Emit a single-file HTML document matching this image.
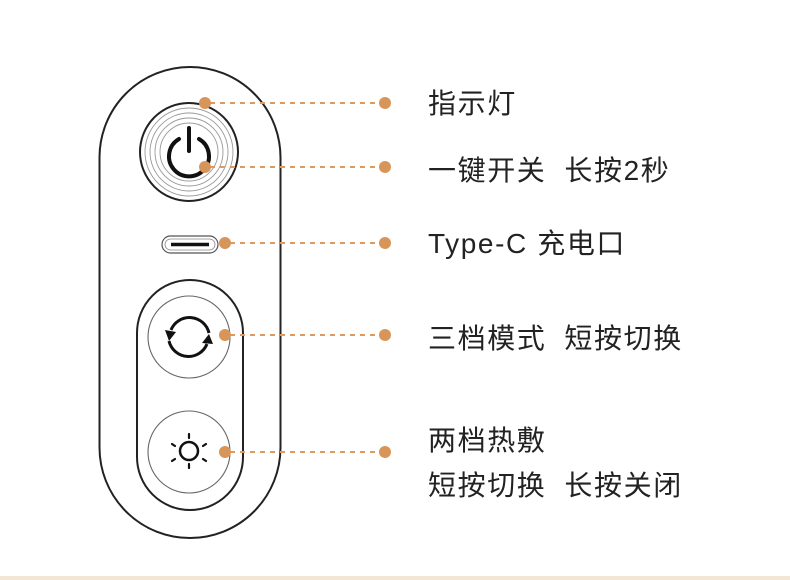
<!DOCTYPE html>
<html><head><meta charset="utf-8"><style>
html,body{margin:0;padding:0;background:#fff;}
body{width:790px;height:580px;position:relative;overflow:hidden;}
.t{position:absolute;left:428px;font-family:"Liberation Sans","Noto Sans CJK SC",sans-serif;font-size:28px;color:#222;letter-spacing:1.6px;line-height:1;white-space:nowrap;}
.s{display:inline-block;width:18px;}
</style></head><body>
<svg width="790" height="580" style="position:absolute;left:0;top:0">
<rect x="0" y="576" width="790" height="4" fill="#f3e6d4"/>
<rect x="99.5" y="67" width="181" height="471" rx="90.5" fill="none" stroke="#222" stroke-width="2"/>
<circle cx="189" cy="152" r="49" fill="none" stroke="#222" stroke-width="2"/>
<g fill="none" stroke="#999" stroke-width="0.9">
<circle cx="189" cy="152" r="44"/><circle cx="189" cy="152" r="39"/><circle cx="189" cy="152" r="34"/><circle cx="189" cy="152" r="29"/>
</g>
<path d="M179 139 A20 20 0 1 0 199 139" fill="none" stroke="#111" stroke-width="4" stroke-linecap="round"/>
<line x1="189" y1="128" x2="189" y2="151" stroke="#111" stroke-width="4" stroke-linecap="round"/>
<rect x="162" y="236" width="56" height="17" rx="8.5" fill="none" stroke="#555" stroke-width="1.2"/>
<rect x="165" y="239" width="50" height="11" rx="5.5" fill="none" stroke="#888" stroke-width="0.8"/>
<line x1="171" y1="244.5" x2="209" y2="244.5" stroke="#111" stroke-width="3.5"/>
<rect x="137" y="280" width="106" height="230" rx="53" fill="none" stroke="#222" stroke-width="2"/>
<circle cx="189" cy="337" r="41" fill="none" stroke="#666" stroke-width="1.1"/>
<circle cx="189" cy="452" r="41" fill="none" stroke="#666" stroke-width="1.1"/>
<path d="M209 333 A20 20 0 0 0 171 330" fill="none" stroke="#111" stroke-width="3"/>
<path d="M169 341 A20 20 0 0 0 207 344" fill="none" stroke="#111" stroke-width="3"/>
<polygon points="165,330 176,332 169,341" fill="#111"/>
<polygon points="213,344 202,343 209,334" fill="#111"/>
<circle cx="189" cy="451" r="9" fill="none" stroke="#111" stroke-width="2.5"/>
<g stroke="#111" stroke-width="2.2" stroke-linecap="round">
<line x1="189" y1="434" x2="189" y2="438"/><line x1="189" y1="464" x2="189" y2="468"/>
<line x1="172" y1="444" x2="175" y2="446"/><line x1="206" y1="444" x2="203" y2="446"/>
<line x1="172" y1="461" x2="175" y2="459"/><line x1="206" y1="461" x2="203" y2="459"/>
</g>
<g stroke="#dc9a5e" stroke-width="2" stroke-dasharray="5 5">
<line x1="210" y1="103" x2="382" y2="103"/>
<line x1="210" y1="167" x2="382" y2="167"/>
<line x1="230" y1="243" x2="382" y2="243"/>
<line x1="230" y1="335" x2="382" y2="335"/>
<line x1="230" y1="452" x2="382" y2="452"/>
</g>
<g fill="#d8955a">
<circle cx="205" cy="103" r="6"/><circle cx="385" cy="103" r="6"/>
<circle cx="205" cy="167" r="6"/><circle cx="385" cy="167" r="6"/>
<circle cx="225" cy="243" r="6"/><circle cx="385" cy="243" r="6"/>
<circle cx="225" cy="335" r="6"/><circle cx="385" cy="335" r="6"/>
<circle cx="225" cy="452" r="6"/><circle cx="385" cy="452" r="6"/>
</g>
</svg>
<div class="t" style="top:90px">指示灯</div>
<div class="t" style="top:157px">一键开关<span class="s"> </span>长按2秒</div>
<div class="t" style="top:230px">Type-C 充电口</div>
<div class="t" style="top:325px">三档模式<span class="s"> </span>短按切换</div>
<div class="t" style="top:427px">两档热敷</div>
<div class="t" style="top:472px">短按切换<span class="s"> </span>长按关闭</div>
</body></html>
